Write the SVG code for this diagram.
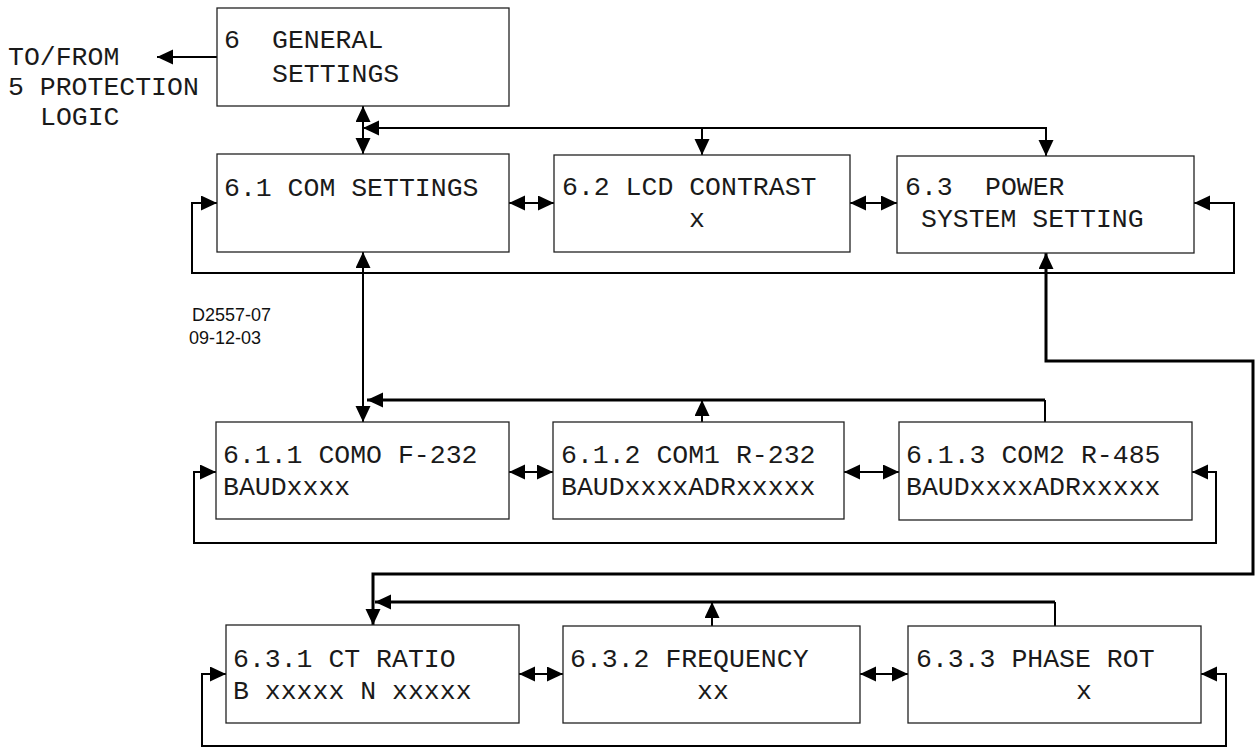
<svg xmlns="http://www.w3.org/2000/svg" width="1256" height="748" viewBox="0 0 1256 748">
<defs>
<marker id="ah" markerUnits="userSpaceOnUse" markerWidth="17" markerHeight="16" viewBox="0 0 17 16" refX="16" refY="7.5" orient="auto-start-reverse">
<path d="M0,0 L16,7.5 L0,15 z" fill="#000"/>
</marker>
<style>
.box{fill:#fff;stroke:#222;stroke-width:1.3}
.t{font-family:"Liberation Mono","Courier New",monospace;font-size:26.5px;fill:#1a1a1a}
.s{font-family:"Liberation Sans",Arial,sans-serif;font-size:18px;fill:#111}
.c{fill:none;stroke:#000;stroke-width:2}
.k{fill:none;stroke:#000;stroke-width:3}
.a{marker-end:url(#ah)}
.b{marker-start:url(#ah);marker-end:url(#ah)}
</style>
</defs>
<rect width="1256" height="748" fill="#fff"/>
<g id="connectors">
<line class="c a" x1="217" y1="57" x2="157" y2="57"/>
<line class="c b" x1="363" y1="106" x2="363" y2="154"/>
<path class="c b" d="M363,128 H1046 V156"/>
<line class="c a" x1="702" y1="128" x2="702" y2="155"/>
<line class="c b" x1="509" y1="203" x2="554" y2="203"/>
<line class="c b" x1="850" y1="203" x2="897" y2="203"/>
<path class="c b" d="M1194,203 H1234 V273 H192 V203 H217"/>
<line class="c b" x1="363" y1="252" x2="363" y2="422"/>
<path class="c" d="M1045,422 V400"/>
<path class="k a" d="M1045,400 H367"/>
<line class="c a" x1="702" y1="422" x2="702" y2="400"/>
<line class="c b" x1="509" y1="472" x2="553" y2="472"/>
<line class="c b" x1="844" y1="472" x2="899" y2="472"/>
<path class="c b" d="M1192,472 H1216 V543 H194 V472 H216"/>
<path class="k b" d="M1046,253 V361 H1253 V574 H373 V625"/>
<path class="c" d="M1055,626 V602"/>
<path class="k a" d="M1055,602 H375"/>
<line class="c a" x1="712" y1="626" x2="712" y2="602"/>
<line class="c b" x1="519" y1="674" x2="563" y2="674"/>
<line class="c b" x1="860" y1="674" x2="908" y2="674"/>
<path class="c b" d="M1201,674 H1226 V746 H202 V674 H226"/>
</g>
<g id="label-tofrom">
<text class="t" x="8" y="65">TO/FROM</text>
<text class="t" x="8" y="95">5 PROTECTION</text>
<text class="t" x="40" y="125">LOGIC</text>
</g>
<g id="label-doc">
<text class="s" x="192" y="321">D2557-07</text>
<text class="s" x="189" y="344">09-12-03</text>
</g>
<g id="n6">
<rect class="box" x="217" y="8" width="292" height="98"/>
<text class="t" x="224" y="48">6</text>
<text class="t" x="272" y="48">GENERAL</text>
<text class="t" x="272" y="82">SETTINGS</text>
</g>
<g id="n6-1">
<rect class="box" x="217" y="154" width="292" height="98"/>
<text class="t" x="224" y="196">6.1 COM SETTINGS</text>
</g>
<g id="n6-2">
<rect class="box" x="554" y="155" width="296" height="97"/>
<text class="t" x="562" y="195">6.2 LCD CONTRAST</text>
<text class="t" x="689" y="227">x</text>
</g>
<g id="n6-3">
<rect class="box" x="897" y="156" width="297" height="97"/>
<text class="t" x="905" y="195">6.3</text>
<text class="t" x="985" y="195">POWER</text>
<text class="t" x="921" y="227">SYSTEM SETTING</text>
</g>
<g id="n6-1-1">
<rect class="box" x="216" y="422" width="293" height="97"/>
<text class="t" x="223" y="463">6.1.1 COMO F-232</text>
<text class="t" x="223" y="495">BAUDxxxx</text>
</g>
<g id="n6-1-2">
<rect class="box" x="553" y="422" width="291" height="97"/>
<text class="t" x="561" y="463">6.1.2 COM1 R-232</text>
<text class="t" x="561" y="495">BAUDxxxxADRxxxxx</text>
</g>
<g id="n6-1-3">
<rect class="box" x="899" y="422" width="293" height="98"/>
<text class="t" x="906" y="463">6.1.3 COM2 R-485</text>
<text class="t" x="906" y="495">BAUDxxxxADRxxxxx</text>
</g>
<g id="n6-3-1">
<rect class="box" x="226" y="625" width="293" height="98"/>
<text class="t" x="233" y="667">6.3.1 CT RATIO</text>
<text class="t" x="233" y="699">B xxxxx N xxxxx</text>
</g>
<g id="n6-3-2">
<rect class="box" x="563" y="626" width="297" height="97"/>
<text class="t" x="570" y="667">6.3.2 FREQUENCY</text>
<text class="t" x="697" y="699">xx</text>
</g>
<g id="n6-3-3">
<rect class="box" x="908" y="626" width="293" height="97"/>
<text class="t" x="916" y="667">6.3.3 PHASE ROT</text>
<text class="t" x="1076" y="699">x</text>
</g>
</svg>
